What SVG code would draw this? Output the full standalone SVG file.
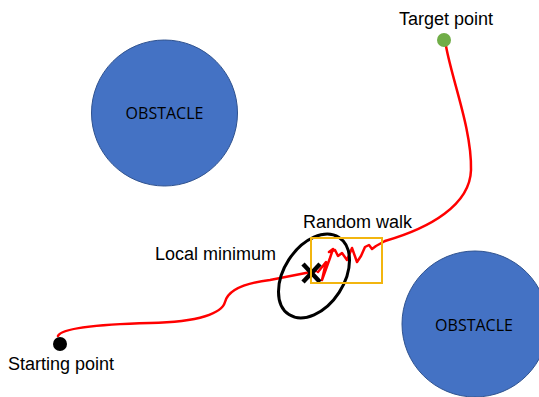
<svg xmlns="http://www.w3.org/2000/svg" width="539" height="397" viewBox="0 0 539 397">
<style>
.obs{fill:#4472C4;stroke:#2F528F;stroke-width:1}
.obsT{font-family:"Open Sans","Liberation Sans",sans-serif;font-size:16px;fill:#000;text-anchor:middle}
.lbl{font-family:"Liberation Sans",Arial,sans-serif;font-size:18px;fill:#000}
.path{fill:none;stroke:#FF0000;stroke-width:2.5;stroke-linecap:round;stroke-linejoin:round}
</style>
<rect width="539" height="397" fill="#fff"/>
<g id="obstacle1">
<circle class="obs" cx="164.5" cy="113" r="73"/>
<text class="obsT" x="164.5" y="119">OBSTACLE</text>
</g>
<g id="obstacle2">
<circle class="obs" cx="475" cy="324" r="73"/>
<text class="obsT" x="474" y="331">OBSTACLE</text>
</g>
<g id="connectors">
<path class="path" d="M58,336 C62,327 110,324 150,323 C200,322 222,313 225,302 C228,290 245,283 270,280 L316,271"/>
<path class="path" d="M385,241 C430,228 470,205 471,170 C472,130 452,80 446,46"/>
<polyline class="path" stroke-width="2" points="318,272 326,262 322,280 330,258 333,249 329,252 335,250 338,256 342,253 347,260 352,248 357,262 361,256 365,247 369,245 372,249 376,246 385,241"/>
</g>
<g id="local-minimum">
<ellipse cx="314" cy="276" rx="30" ry="46" transform="rotate(33 314 276)" fill="none" stroke="#000" stroke-width="3"/>
<line x1="303" y1="264" x2="320" y2="282" stroke="#000" stroke-width="4.5"/>
<line x1="320" y1="264" x2="303" y2="282" stroke="#000" stroke-width="4.5"/>
<text class="lbl" x="155" y="260">Local minimum</text>
</g>
<g id="random-walk">
<rect x="311" y="238" width="71" height="45" fill="none" stroke="#F2B50F" stroke-width="2"/>
<text class="lbl" x="303" y="228">Random walk</text>
</g>
<g id="start">
<circle cx="60" cy="344" r="7" fill="#000"/>
<text class="lbl" x="8" y="370">Starting point</text>
</g>
<g id="target">
<circle cx="444" cy="40" r="7" fill="#70AD47"/>
<text class="lbl" x="399" y="25">Target point</text>
</g>
</svg>
